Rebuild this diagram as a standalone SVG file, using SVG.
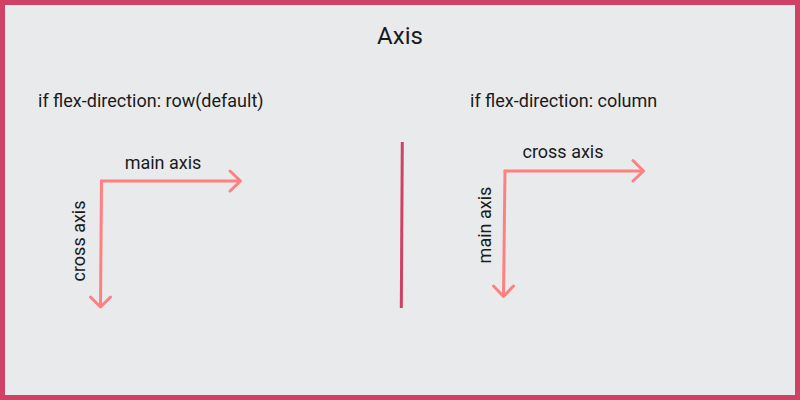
<svg xmlns="http://www.w3.org/2000/svg" width="800" height="400" viewBox="0 0 800 400">
<style>
.t{font-family:Roboto,"Liberation Sans",sans-serif;fill:#1a1a1a;font-size:18px}
.ax{fill:none;stroke:#ff8080;stroke-width:3;stroke-linecap:round;stroke-linejoin:round}
</style>
<rect x="2.5" y="2.5" width="795" height="395" fill="#e9eaec" stroke="#d04265" stroke-width="5"/>
<g id="title"><text x="400" y="44" text-anchor="middle" class="t" style="font-size:24px">Axis</text></g>
<g id="row-label"><text x="38" y="107" class="t">if flex-direction: row(default)</text></g>
<g id="column-label"><text x="470" y="107" class="t">if flex-direction: column</text></g>
<g id="divider"><line x1="402.3" y1="142" x2="401.3" y2="308" stroke="#d04265" stroke-width="3"/></g>
<g id="connectors">
<path class="ax" d="M101.5 181 L240 181 M230 171 L240.5 181 L230 191"/>
<path class="ax" d="M101.5 181 L100.5 307 M90.5 297 L100.5 307 L110.5 297"/>
<path class="ax" d="M505 171 L643 171 M633 160.5 L643.5 171 L633 181"/>
<path class="ax" d="M505 171 L503.5 296 M493.5 286 L503.5 296.5 L513.5 286"/>
</g>
<g id="left-main"><text x="163" y="169" text-anchor="middle" class="t">main axis</text></g>
<g id="left-cross"><text transform="translate(85 241) rotate(-90)" text-anchor="middle" class="t">cross axis</text></g>
<g id="right-cross"><text x="563" y="158" text-anchor="middle" class="t">cross axis</text></g>
<g id="right-main"><text transform="translate(491 225) rotate(-90)" text-anchor="middle" class="t">main axis</text></g>
</svg>
